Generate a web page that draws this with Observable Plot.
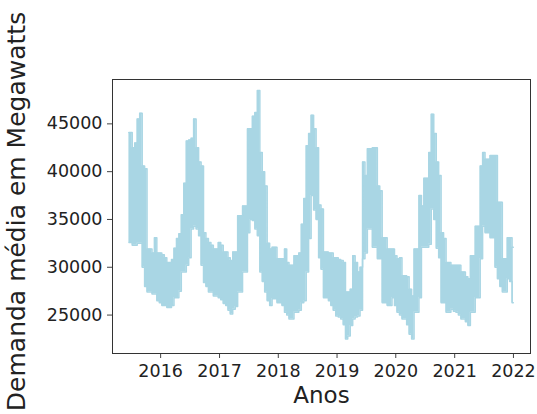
<!DOCTYPE html>
<html>
<head>
<meta charset="utf-8">
<script src="https://cdn.jsdelivr.net/npm/d3@7"></script>
<script src="https://cdn.jsdelivr.net/npm/@observablehq/plot@0.6"></script>
<style>
  html, body { margin: 0; padding: 0; background: #fff; }
  #chart svg { display: block; }
</style>
</head>
<body>
<div id="chart"></div>
<script>
// Sample dates (semi-monthly) with upper / lower envelope of the daily series
const dates = [
  "2015-06-18","2015-07-01","2015-07-16","2015-08-01","2015-08-16","2015-09-01","2015-09-16","2015-10-01","2015-10-16","2015-11-01","2015-11-16","2015-12-01","2015-12-16",
  "2016-01-01","2016-01-16","2016-02-01","2016-02-16","2016-03-01","2016-03-16","2016-04-01","2016-04-16","2016-05-01","2016-05-16","2016-06-01","2016-06-16","2016-07-01","2016-07-16","2016-08-01","2016-08-16","2016-09-01","2016-09-16","2016-10-01","2016-10-16","2016-11-01","2016-11-16","2016-12-01","2016-12-16",
  "2017-01-01","2017-01-16","2017-02-01","2017-02-16","2017-03-01","2017-03-16","2017-04-01","2017-04-16","2017-05-01","2017-05-16","2017-06-01","2017-06-16","2017-07-01","2017-07-16","2017-08-01","2017-08-16","2017-09-01","2017-09-16","2017-10-01","2017-10-16","2017-11-01","2017-11-16","2017-12-01","2017-12-16",
  "2018-01-01","2018-01-16","2018-02-01","2018-02-16","2018-03-01","2018-03-16","2018-04-01","2018-04-16","2018-05-01","2018-05-16","2018-06-01","2018-06-16","2018-07-01","2018-07-16","2018-08-01","2018-08-16","2018-09-01","2018-09-16","2018-10-01","2018-10-16","2018-11-01","2018-11-16","2018-12-01","2018-12-16",
  "2019-01-01","2019-01-16","2019-02-01","2019-02-16","2019-03-01","2019-03-16","2019-04-01","2019-04-16","2019-05-01","2019-05-16","2019-06-01","2019-06-16","2019-07-01","2019-07-16","2019-08-01","2019-08-16","2019-09-01","2019-09-16","2019-10-01","2019-10-16","2019-11-01","2019-11-16","2019-12-01","2019-12-16",
  "2020-01-01","2020-01-16","2020-02-01","2020-02-16","2020-03-01","2020-03-16","2020-04-01","2020-04-16","2020-05-01","2020-05-16","2020-06-01","2020-06-16","2020-07-01","2020-07-16","2020-08-01","2020-08-16","2020-09-01","2020-09-16","2020-10-01","2020-10-16","2020-11-01","2020-11-16","2020-12-01","2020-12-16",
  "2021-01-01","2021-01-16","2021-02-01","2021-02-16","2021-03-01","2021-03-16","2021-04-01","2021-04-16","2021-05-01","2021-05-16","2021-06-01","2021-06-16","2021-07-01","2021-07-16","2021-08-01","2021-08-16","2021-09-01","2021-09-16","2021-10-01","2021-10-16","2021-11-01","2021-11-16","2021-12-01","2021-12-16","2021-12-31"
];
const maxDemand = [
  44100,44100,42500,43000,45500,46100,40600,40300,31900,31900,31500,33100,31500,
  31500,31300,31000,30500,30500,30800,32000,33000,33500,35500,38800,43200,43300,43500,45500,42500,41000,40600,33600,33000,32600,32300,31900,31900,
  32600,32300,31600,31600,31000,30700,31600,31600,35400,35400,36400,36400,44500,44500,45800,46200,48500,42000,40000,38500,32500,31900,32100,32100,
  30900,30900,30900,31900,30500,30200,30200,31200,31200,31500,34500,37200,42700,44000,45900,44500,42500,36500,36100,31600,31600,31500,31500,31000,
  31000,30800,30700,30500,27400,27400,27700,31200,30500,29500,30000,41000,39600,42400,42400,42500,42500,38500,38000,33100,33100,31900,31900,31900,
  31200,30900,31000,29100,29100,29000,27700,27000,31900,31900,37500,36400,39300,39300,42000,46000,44000,41000,39600,33600,33000,30500,30500,30200,
  30200,30200,30200,29500,29500,29000,28800,31200,31200,34300,34300,40600,42000,41300,41300,41700,41700,41700,36800,36800,30900,30900,33100,33100,32100
];
const minDemand = [
  32600,32600,32300,32300,32500,32500,30000,28000,27400,27400,27200,27200,26500,
  26300,26000,26000,25800,25800,26000,26800,26800,27500,29500,29500,30200,31000,34000,34300,34000,33300,30200,28400,28000,27400,27400,27000,27000,
  26800,26600,26200,26000,25500,25100,25600,25900,27400,27400,29500,29500,33600,35000,34900,34000,33300,29500,28500,27400,26500,26000,26700,26700,
  26300,26300,26000,25300,25000,24600,24600,25300,25300,25500,26300,26500,29500,33000,37500,36000,35000,31000,29800,26800,26800,26500,26000,25500,
  24900,24800,24600,24000,22500,22800,23900,24600,24800,24900,25500,30900,31500,34000,34000,32100,32100,30900,30900,26300,26300,26000,26000,26800,
  26000,25300,25000,24600,24600,24000,23000,22500,25300,25300,26800,32100,32100,32100,32400,36100,35000,32000,31000,26300,26300,25300,25300,25600,
  25400,25300,25000,24600,24600,24300,23900,25300,25300,26800,26800,30900,34300,33600,33600,33100,33100,30000,28800,28000,27400,27400,28800,28500,26300
];
const yearTicks = ["2016-01-01","2017-01-01","2018-01-01","2019-01-01","2020-01-01","2021-01-01","2022-01-01"];
const yTicks = [25000, 30000, 35000, 40000, 45000];
const xLabel = "Anos";
const yLabel = "Demanda média em Megawatts";

const data = dates.map((d, i) => ({date: new Date(d), hi: maxDemand[i], lo: minDemand[i]}));
const color = "#a9d6e4";
const font = "DejaVu Sans, sans-serif";

const chart = Plot.plot({
  width: 537,
  height: 414,
  marginLeft: 112,
  marginRight: 7,
  marginTop: 79,
  marginBottom: 61,
  style: {fontFamily: font, fontSize: "17.5px", color: "#222", background: "#fff"},
  x: {type: "utc", domain: [new Date("2015-03-08"), new Date("2022-04-17")]},
  y: {domain: [20980, 49640]},
  marks: [
    Plot.areaY(data, {x: "date", y1: "lo", y2: "hi", fill: color, curve: "step"}),
    Plot.lineY(data, {x: "date", y: "hi", stroke: color, strokeWidth: 1.5, curve: "step"}),
    Plot.lineY(data, {x: "date", y: "lo", stroke: color, strokeWidth: 1.5, curve: "step"}),
    Plot.axisX(yearTicks.map(d => new Date(d)), {tickFormat: d3.utcFormat("%Y"), tickSize: 5, tickPadding: 6, label: null, stroke: "#444", fontSize: 17.5, fill: "#222"}),
    Plot.axisY(yTicks, {tickFormat: d => String(d), tickSize: 5, tickPadding: 5, label: null, stroke: "#444", fontSize: 17.5, fill: "#222"}),
    Plot.frame({stroke: "#333", strokeWidth: 1}),
    Plot.text([xLabel], {frameAnchor: "bottom", dy: 42, fontSize: 23, fill: "#222", lineAnchor: "middle", textAnchor: "middle"}),
    Plot.text([yLabel], {frameAnchor: "left", dx: -96, dy: -5, rotate: -90, fontSize: 25, fill: "#222", lineAnchor: "middle", textAnchor: "middle"})
  ]
});
document.getElementById("chart").appendChild(chart);
</script>
</body>
</html>
